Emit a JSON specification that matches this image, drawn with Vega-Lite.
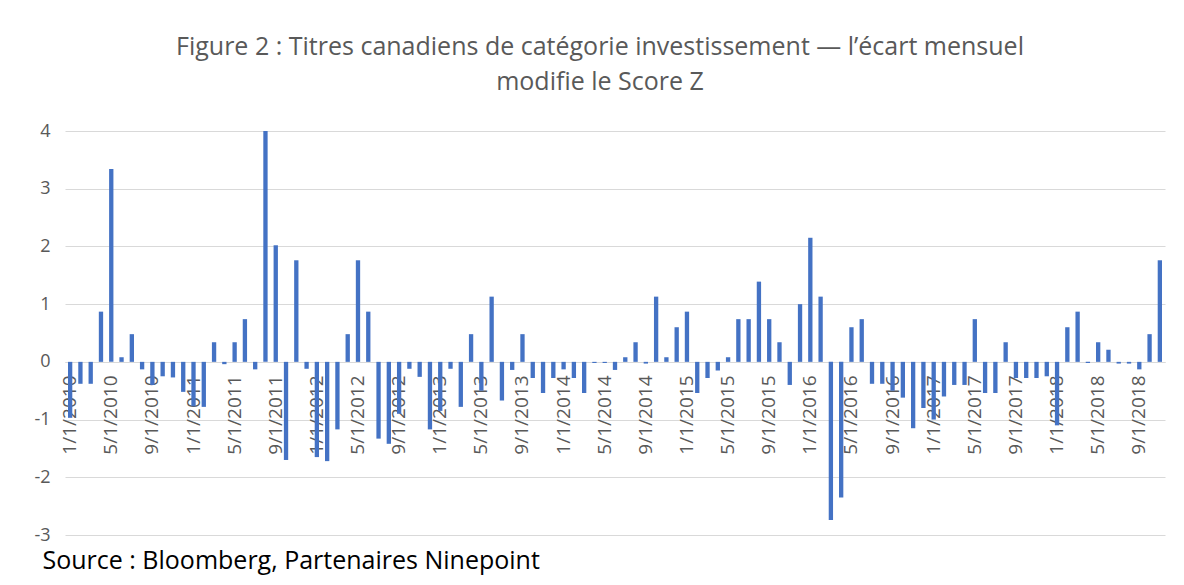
{
  "$schema": "https://vega.github.io/schema/vega-lite/v6.json",
  "width": 1100,
  "height": 404,
  "autosize": "none",
  "padding": {"left": 65, "top": 131, "right": 19, "bottom": 50},
  "background": "white",
  "title": {
    "text": ["Figure 2 : Titres canadiens de catégorie investissement — l’écart mensuel", "modifie le Score Z"],
    "font": "Open Sans",
    "fontSize": 25,
    "fontWeight": "normal",
    "color": "#595959",
    "lineHeight": 35,
    "offset": 27,
    "dx": -15,
    "anchor": "middle"
  },
  "data": {
    "values": [
      {"d": "1/1/2010", "v": -0.97}, {"d": "2/1/2010", "v": -0.38}, {"d": "3/1/2010", "v": -0.38}, {"d": "4/1/2010", "v": 0.87},
      {"d": "5/1/2010", "v": 3.34}, {"d": "6/1/2010", "v": 0.08}, {"d": "7/1/2010", "v": 0.48}, {"d": "8/1/2010", "v": -0.13},
      {"d": "9/1/2010", "v": -0.4}, {"d": "10/1/2010", "v": -0.25}, {"d": "11/1/2010", "v": -0.27}, {"d": "12/1/2010", "v": -0.52},
      {"d": "1/1/2011", "v": -0.77}, {"d": "2/1/2011", "v": -0.78}, {"d": "3/1/2011", "v": 0.34}, {"d": "4/1/2011", "v": -0.04},
      {"d": "5/1/2011", "v": 0.34}, {"d": "6/1/2011", "v": 0.74}, {"d": "7/1/2011", "v": -0.13}, {"d": "8/1/2011", "v": 4.0},
      {"d": "9/1/2011", "v": 2.02}, {"d": "10/1/2011", "v": -1.7}, {"d": "11/1/2011", "v": 1.76}, {"d": "12/1/2011", "v": -0.12},
      {"d": "1/1/2012", "v": -1.65}, {"d": "2/1/2012", "v": -1.72}, {"d": "3/1/2012", "v": -1.17}, {"d": "4/1/2012", "v": 0.48},
      {"d": "5/1/2012", "v": 1.76}, {"d": "6/1/2012", "v": 0.87}, {"d": "7/1/2012", "v": -1.33}, {"d": "8/1/2012", "v": -1.42},
      {"d": "9/1/2012", "v": -0.9}, {"d": "10/1/2012", "v": -0.12}, {"d": "11/1/2012", "v": -0.26}, {"d": "12/1/2012", "v": -1.17},
      {"d": "1/1/2013", "v": -0.85}, {"d": "2/1/2013", "v": -0.12}, {"d": "3/1/2013", "v": -0.78}, {"d": "4/1/2013", "v": 0.48},
      {"d": "5/1/2013", "v": -0.5}, {"d": "6/1/2013", "v": 1.13}, {"d": "7/1/2013", "v": -0.67}, {"d": "8/1/2013", "v": -0.14},
      {"d": "9/1/2013", "v": 0.48}, {"d": "10/1/2013", "v": -0.28}, {"d": "11/1/2013", "v": -0.54}, {"d": "12/1/2013", "v": -0.28},
      {"d": "1/1/2014", "v": -0.13}, {"d": "2/1/2014", "v": -0.28}, {"d": "3/1/2014", "v": -0.54}, {"d": "4/1/2014", "v": -0.02},
      {"d": "5/1/2014", "v": -0.02}, {"d": "6/1/2014", "v": -0.14}, {"d": "7/1/2014", "v": 0.08}, {"d": "8/1/2014", "v": 0.34},
      {"d": "9/1/2014", "v": -0.03}, {"d": "10/1/2014", "v": 1.13}, {"d": "11/1/2014", "v": 0.08}, {"d": "12/1/2014", "v": 0.6},
      {"d": "1/1/2015", "v": 0.87}, {"d": "2/1/2015", "v": -0.54}, {"d": "3/1/2015", "v": -0.28}, {"d": "4/1/2015", "v": -0.15},
      {"d": "5/1/2015", "v": 0.08}, {"d": "6/1/2015", "v": 0.74}, {"d": "7/1/2015", "v": 0.74}, {"d": "8/1/2015", "v": 1.39},
      {"d": "9/1/2015", "v": 0.74}, {"d": "10/1/2015", "v": 0.34}, {"d": "11/1/2015", "v": -0.4}, {"d": "12/1/2015", "v": 1.0},
      {"d": "1/1/2016", "v": 2.15}, {"d": "2/1/2016", "v": 1.13}, {"d": "3/1/2016", "v": -2.74}, {"d": "4/1/2016", "v": -2.35},
      {"d": "5/1/2016", "v": 0.6}, {"d": "6/1/2016", "v": 0.74}, {"d": "7/1/2016", "v": -0.38}, {"d": "8/1/2016", "v": -0.38},
      {"d": "9/1/2016", "v": -0.5}, {"d": "10/1/2016", "v": -0.62}, {"d": "11/1/2016", "v": -1.15}, {"d": "12/1/2016", "v": -0.8},
      {"d": "1/1/2017", "v": -1.0}, {"d": "2/1/2017", "v": -0.6}, {"d": "3/1/2017", "v": -0.4}, {"d": "4/1/2017", "v": -0.4},
      {"d": "5/1/2017", "v": 0.74}, {"d": "6/1/2017", "v": -0.54}, {"d": "7/1/2017", "v": -0.54}, {"d": "8/1/2017", "v": 0.34},
      {"d": "9/1/2017", "v": -0.28}, {"d": "10/1/2017", "v": -0.28}, {"d": "11/1/2017", "v": -0.28}, {"d": "12/1/2017", "v": -0.25},
      {"d": "1/1/2018", "v": -1.1}, {"d": "2/1/2018", "v": 0.6}, {"d": "3/1/2018", "v": 0.87}, {"d": "4/1/2018", "v": -0.02},
      {"d": "5/1/2018", "v": 0.34}, {"d": "6/1/2018", "v": 0.21}, {"d": "7/1/2018", "v": -0.03}, {"d": "8/1/2018", "v": -0.03},
      {"d": "9/1/2018", "v": -0.13}, {"d": "10/1/2018", "v": 0.48}, {"d": "11/1/2018", "v": 1.76}
    ]
  },
  "mark": {"type": "bar", "color": "#4472C4"},
  "encoding": {
    "x": {
      "field": "d",
      "type": "ordinal",
      "sort": null,
      "scale": {"paddingInner": 0.58, "paddingOuter": 0.29},
      "axis": {
        "values": ["1/1/2010", "5/1/2010", "9/1/2010", "1/1/2011", "5/1/2011", "9/1/2011", "1/1/2012", "5/1/2012", "9/1/2012", "1/1/2013", "5/1/2013", "9/1/2013", "1/1/2014", "5/1/2014", "9/1/2014", "1/1/2015", "5/1/2015", "9/1/2015", "1/1/2016", "5/1/2016", "9/1/2016", "1/1/2017", "5/1/2017", "9/1/2017", "1/1/2018", "5/1/2018", "9/1/2018"],
        "offset": -173,
        "labelAngle": -90,
        "labelFont": "Open Sans",
        "labelFontSize": 19,
        "labelColor": "#595959",
        "labelPadding": 13,
        "labelOverlap": false,
        "labelBound": false,
        "ticks": false,
        "domainColor": "#d9d9d9",
        "title": "Source : Bloomberg, Partenaires Ninepoint",
        "titleFont": "Open Sans",
        "titleFontSize": 25,
        "titleFontWeight": "normal",
        "titleColor": "#000000",
        "titleAlign": "left",
        "titleAnchor": "start",
        "titleBaseline": "alphabetic",
        "titleX": -23,
        "titleY": 206
      }
    },
    "y": {
      "field": "v",
      "type": "quantitative",
      "scale": {"domain": [-3, 4], "nice": false},
      "axis": {
        "title": null,
        "values": [-3, -2, -1, 0, 1, 2, 3, 4],
        "labelExpr": "'' + datum.value",
        "ticks": false,
        "domain": false,
        "grid": true,
        "gridColor": "#d9d9d9",
        "labelFont": "Open Sans",
        "labelFontSize": 18,
        "labelColor": "#595959",
        "labelPadding": 15
      }
    }
  },
  "config": {"view": {"stroke": null}}
}
